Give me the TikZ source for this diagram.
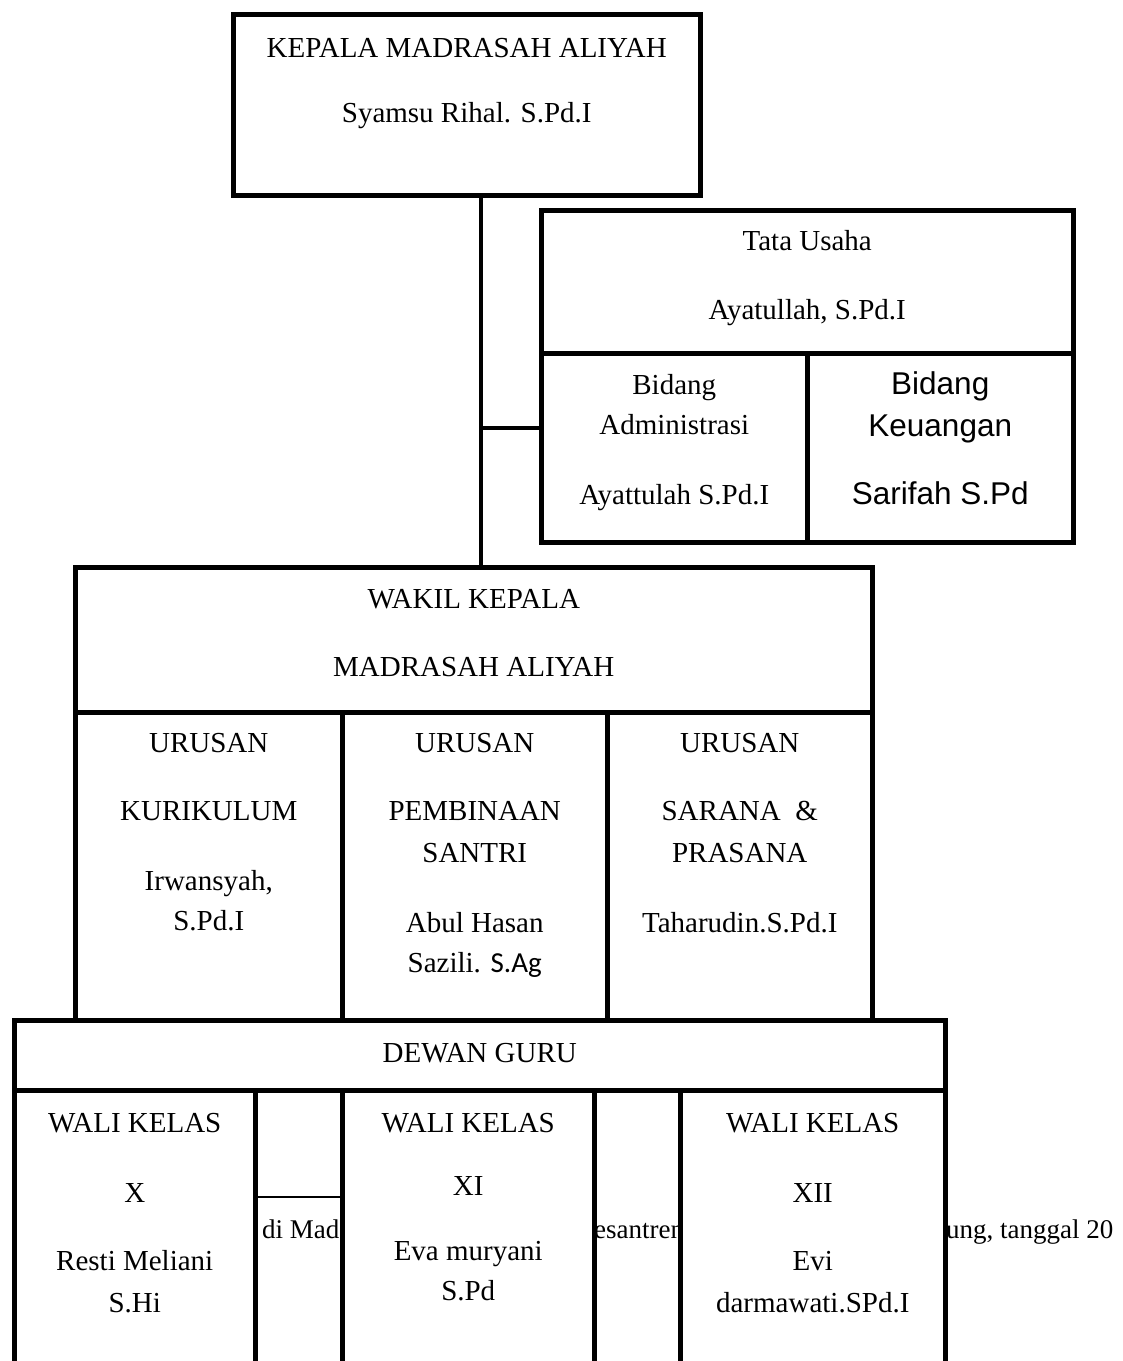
\documentclass[tikz,border=0pt]{standalone}
\usepackage{fontspec}
\setmainfont{Liberation Serif}
\newfontfamily\arialfont{Liberation Sans}
\newfontfamily\calibrifont{Carlito}
\usetikzlibrary{positioning}
\usetikzlibrary{calc}
\tikzstyle{unit}=[draw,line width=4.5pt,fill=white,inner sep=0pt,anchor=north west]
\tikzstyle{txt}=[font=\fontsize{29}{34}\selectfont,inner sep=0pt,anchor=base]
\tikzstyle{fragtxt}=[font=\fontsize{27}{32}\selectfont,inner sep=0pt,anchor=base west]
\tikzstyle{sanstxt}=[font=\arialfont\fontsize{31.5}{36}\selectfont,inner sep=0pt,anchor=base]
\tikzstyle{link}=[draw,line width=4.5pt]
\tikzstyle{thinlink}=[draw,line width=2pt]

\begin{document}
\begin{tikzpicture}[x=1pt,y=1pt]
    \useasboundingbox (0,0) rectangle (1123,-1361);
    \clip (0,0) rectangle (1123,-1361);

    % line of text lying behind the class boxes
    \node[fragtxt] (fragA) at (262,-1238) {di Mad};
    \node[fragtxt] (fragB) at (594,-1238) {esantren};
    \node[fragtxt] (fragC) at (946,-1238) {ung, tanggal 20};

    \foreach \x/\y/\w/\h/\name in {231/12/467/181/kepala, 539/208/532/143/tu,
            539/351/266/189/adm, 805/351/266/189/keu,
            73/565/797/145/wakil, 73/710/267/308/kur, 340/710/265/308/pem, 605/710/265/308/sar,
            12/1018/931/70/dewan,
            12/1088/241/320/kelasX, 340/1088/252/320/kelasXI, 678/1088/265/320/kelasXII}
        \node[unit,minimum width=\w,minimum height=\h] (\name) at (\x,-\y) {};

    \coordinate (spine) at (481,-193);
    \coordinate (branch) at (481,-428);
    \coordinate (stub) at (253,-1197);
    \path[link] (spine) -- (spine |- wakil.north);
    \path[link] (branch) -- (branch -| adm.west);
    \path[thinlink] (stub) -- (stub -| kelasXI.west);

    \foreach \cell/\y/\name/\text in {kepala/57/tKepala/{KEPALA MADRASAH ALIYAH}, kepala/122/nKepala/{Syamsu Rihal. S.Pd.I},
            tu/250/tTu/{Tata Usaha}, tu/319/nTu/{Ayatullah, S.Pd.I},
            adm/394/tAdm/Bidang, adm/434/tAdmB/Administrasi, adm/504/nAdm/{Ayattulah S.Pd.I},
            wakil/608/tWakil/{WAKIL KEPALA}, wakil/676/tWakilB/{MADRASAH ALIYAH},
            kur/752/tKur/URUSAN, kur/820/tKurB/KURIKULUM, kur/890/nKur/{Irwansyah,}, kur/930/nKurB/S.Pd.I,
            pem/752/tPem/URUSAN, pem/820/tPemB/PEMBINAAN, pem/862/tPemC/SANTRI,
            pem/932/nPem/{Abul Hasan}, pem/972/nPemB/{Sazili. {\calibrifont S.Ag}},
            sar/752/tSar/URUSAN, sar/820/tSarB/{SARANA\ \ \&}, sar/862/tSarC/PRASANA, sar/932/nSar/Taharudin.S.Pd.I,
            dewan/1062/tDewan/{DEWAN GURU},
            kelasX/1132/tX/{WALI KELAS}, kelasX/1202/tXB/X, kelasX/1270/nX/{Resti Meliani}, kelasX/1312/nXB/S.Hi,
            kelasXI/1132/tXI/{WALI KELAS}, kelasXI/1195/tXIB/XI, kelasXI/1260/nXI/{Eva muryani}, kelasXI/1300/nXIB/S.Pd,
            kelasXII/1132/tXII/{WALI KELAS}, kelasXII/1202/tXIIB/XII, kelasXII/1270/nXII/Evi, kelasXII/1312/nXIIB/darmawati.SPd.I}
        \node[txt] (\name) at (\cell.north |- 0,-\y) {\text};

    \foreach \y/\name/\text in {394/tKeu/Bidang, 436/tKeuB/Keuangan, 504/nKeu/{Sarifah S.Pd}}
        \node[sanstxt] (\name) at (keu.north |- 0,-\y) {\text};

\end{tikzpicture}
\end{document}
